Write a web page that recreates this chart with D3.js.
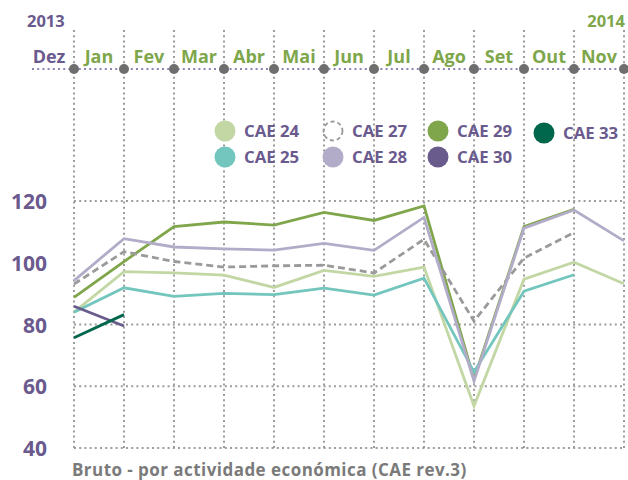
<!DOCTYPE html>
<html>
<head>
<meta charset="utf-8">
<script src="https://cdn.jsdelivr.net/npm/d3@7"></script>
<style>
  body { margin: 0; background: #fff; }
  svg { display: block; font-family: "Open Sans", sans-serif; font-weight: 700; }
</style>
</head>
<body>
<div id="chart"></div>
<script>
const months = ['Dez', 'Jan', 'Fev', 'Mar', 'Abr', 'Mai', 'Jun', 'Jul', 'Ago', 'Set', 'Out', 'Nov'];
const yTicks = [40, 60, 80, 100, 120];
const gridTicks = [40, 60, 80, 120];

const cae24 = [84, 97.1, 96.7, 96, 92, 97.5, 95.6, 98.6, 53.6, 94.7, 100.2, 93.2];
const cae25 = [84, 91.9, 89.1, 90.1, 89.7, 91.8, 89.5, 95, 64.6, 90.8, 96.1, null];
const cae27 = [93.1, 103.6, 100.4, 98.6, 99, 99.2, 96.7, 107.6, 81.1, 101.5, 109.8, null];
const cae28 = [94.2, 107.8, 105.1, 104.5, 104.1, 106.3, 104, 114.7, 61.7, 111.2, 117.1, 107.1];
const cae29 = [88.8, 100.4, 111.7, 113.2, 112.2, 116.3, 113.7, 118.4, 62.3, 111.7, 117.3, null];
const cae30 = [85.9, 79.5, null, null, null, null, null, null, null, null, null, null];
const cae33 = [75.7, 83.2, null, null, null, null, null, null, null, null, null, null];

const series = [
  { name: 'CAE 29', values: cae29, color: '#80a64c' },
  { name: 'CAE 24', values: cae24, color: '#c3d7a5' },
  { name: 'CAE 25', values: cae25, color: '#72c6bd' },
  { name: 'CAE 27', values: cae27, color: '#9a9a9a', dashed: true },
  { name: 'CAE 28', values: cae28, color: '#b2acc9' },
  { name: 'CAE 30', values: cae30, color: '#695b8c' },
  { name: 'CAE 33', values: cae33, color: '#00664c' }
];

const legendRows = [
  ['CAE 24', 'CAE 27', 'CAE 29', 'CAE 33'],
  ['CAE 25', 'CAE 28', 'CAE 30']
];

const W = 628, H = 480;
const purple = '#6a5a8e';
const green = '#7ea64b';
const gridColor = '#9c9c9c';

const svg = d3.select('#chart').append('svg')
  .attr('width', W).attr('height', H);

const x = d3.scaleLinear().domain([0, months.length - 1]).range([74, 624]);
const y = d3.scaleLinear().domain([40, 120]).range([448, 201]);
const step = x(1) - x(0);

// vertical grid
svg.append('g')
  .selectAll('line')
  .data(months)
  .join('line')
  .attr('x1', (d, i) => x(i)).attr('x2', (d, i) => x(i))
  .attr('y1', 30).attr('y2', y(40))
  .attr('stroke', gridColor)
  .attr('stroke-width', 2)
  .attr('stroke-dasharray', '2,3.2');

// horizontal grid
svg.append('g')
  .selectAll('line')
  .data(gridTicks)
  .join('line')
  .attr('x1', x(0)).attr('x2', x(months.length - 1))
  .attr('y1', d => y(d)).attr('y2', d => y(d))
  .attr('stroke', gridColor)
  .attr('stroke-width', 2)
  .attr('stroke-dasharray', '2,3.2');

// y axis labels
const yAxis = svg.append('g')
  .attr('transform', 'translate(47,0)')
  .call(d3.axisLeft(y).tickValues(yTicks).tickSize(0).tickPadding(0));
yAxis.select('.domain').remove();
yAxis.selectAll('text')
  .attr('fill', purple)
  .attr('font-size', 21)
  .attr('font-family', '"Open Sans", sans-serif')
  .attr('font-weight', 700)
  .attr('dy', '0.36em');

// top timeline
const topY = 69;
svg.append('line')
  .attr('x1', 32).attr('x2', 628)
  .attr('y1', topY).attr('y2', topY)
  .attr('stroke', '#8c84b4')
  .attr('stroke-width', 2)
  .attr('stroke-dasharray', '2,3.2');

svg.append('g')
  .selectAll('circle')
  .data(months)
  .join('circle')
  .attr('cx', (d, i) => x(i))
  .attr('cy', topY)
  .attr('r', 5)
  .attr('fill', '#6e6e6e');

svg.append('g')
  .selectAll('text')
  .data(months)
  .join('text')
  .attr('x', (d, i) => x(i) - step / 2)
  .attr('y', 63)
  .attr('text-anchor', 'middle')
  .attr('font-size', 18)
  .attr('fill', (d, i) => i === 0 ? purple : green)
  .text(d => d);

svg.append('text')
  .attr('x', 27).attr('y', 27)
  .attr('font-size', 16.5)
  .attr('fill', purple)
  .text('2013');

svg.append('text')
  .attr('x', 625).attr('y', 27)
  .attr('text-anchor', 'end')
  .attr('font-size', 16.5)
  .attr('fill', green)
  .text('2014');

// lines
const line = d3.line()
  .defined(d => d != null)
  .x((d, i) => x(i))
  .y(d => y(d));

svg.append('g')
  .selectAll('path')
  .data(series)
  .join('path')
  .attr('d', d => line(d.values))
  .attr('fill', 'none')
  .attr('stroke', d => d.color)
  .attr('stroke-width', 2.8)
  .attr('stroke-dasharray', d => d.dashed ? '7,4' : null);

// legend
const colX = [225, 333, 438, 544];
const rowY = [131, 157];
const legend = svg.append('g');
legendRows.forEach((row, r) => {
  row.forEach((name, c) => {
    const s = series.find(e => e.name === name);
    const cy = rowY[r] + (name === 'CAE 33' ? 2 : 0);
    const g = legend.append('g');
    if (s.dashed) {
      g.append('circle')
        .attr('cx', colX[c]).attr('cy', cy).attr('r', 9.5)
        .attr('fill', 'none')
        .attr('stroke', s.color)
        .attr('stroke-width', 1.8)
        .attr('stroke-dasharray', '4,3');
    } else {
      g.append('circle')
        .attr('cx', colX[c]).attr('cy', cy).attr('r', 10.5)
        .attr('fill', s.color);
    }
    g.append('text')
      .attr('x', colX[c] + 19)
      .attr('y', cy + 6)
      .attr('font-size', 16.8)
      .attr('fill', purple)
      .text(name);
  });
});

// footer
svg.append('text')
  .attr('x', 72).attr('y', 476)
  .attr('font-size', 17)
  .attr('letter-spacing', 0.45)
  .attr('fill', '#7a7a7a')
  .text('Bruto - por actividade económica (CAE rev.3)');
</script>
</body>
</html>
